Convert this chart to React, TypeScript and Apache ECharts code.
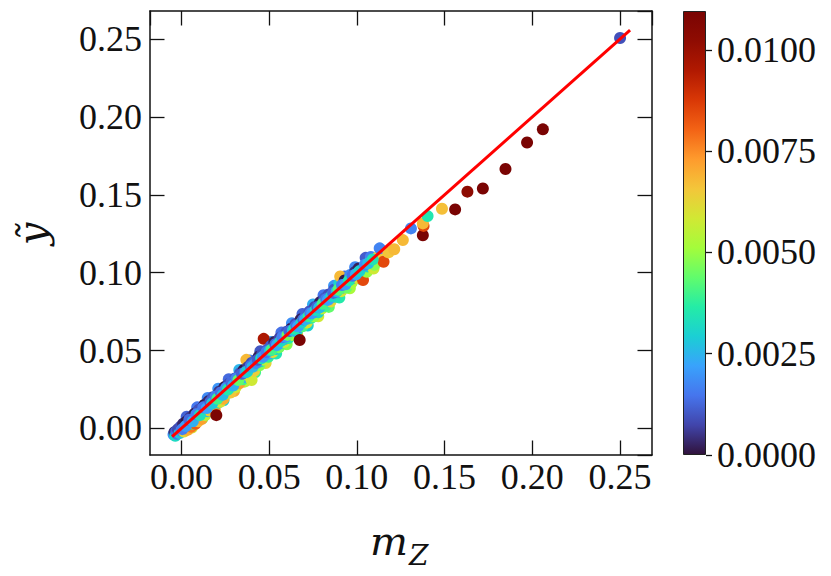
import { useEffect, useRef } from 'react';
import * as echarts from 'echarts';

// scatter data: m_Z (x), y-tilde (y), colour value (c)
const X_VALUES = [
  -0.0045, -0.004, -0.0035, -0.003, -0.0025, -0.002, -0.001, -0.0005, 0.0, 0.001,
  0.0015, 0.002, 0.003, 0.0035, 0.004, 0.005, 0.0055, 0.006, 0.007, 0.0075,
  0.008, 0.009, 0.0095, 0.01, 0.011, 0.0115, 0.012, 0.013, 0.0135, 0.014,
  0.015, 0.0155, 0.016, 0.017, 0.018, 0.0185, 0.019, 0.0199, 0.02, 0.021,
  0.0215, 0.022, 0.023, 0.024, 0.0245, 0.025, 0.026, 0.027, 0.0275, 0.028,
  0.029, 0.03, 0.0305, 0.031, 0.032, 0.033, 0.0335, 0.034, 0.035, 0.0355,
  0.036, 0.037, 0.037, 0.038, 0.0385, 0.039, 0.04, 0.04, 0.041, 0.0415,
  0.042, 0.043, 0.044, 0.0445, 0.045, 0.046, 0.0469, 0.047, 0.048, 0.049,
  0.0495, 0.05, 0.051, 0.052, 0.0525, 0.053, 0.054, 0.055, 0.0555, 0.056,
  0.057, 0.058, 0.0585, 0.059, 0.06, 0.061, 0.062, 0.0625, 0.063, 0.064,
  0.065, 0.066, 0.067, 0.0674, 0.068, 0.069, 0.07, 0.071, 0.0715, 0.072,
  0.073, 0.074, 0.075, 0.0755, 0.076, 0.077, 0.078, 0.079, 0.08, 0.081,
  0.0815, 0.082, 0.083, 0.084, 0.085, 0.086, 0.087, 0.088, 0.089, 0.09,
  0.0905, 0.091, 0.092, 0.093, 0.094, 0.095, 0.0962, 0.097, 0.098, 0.099,
  0.1, 0.101, 0.102, 0.1035, 0.104, 0.1057, 0.106, 0.1076, 0.108, 0.1095,
  0.11, 0.112, 0.113, 0.1152, 0.118, 0.1213, 0.1262, 0.1308, 0.1376, 0.138,
  0.1376, 0.1403, 0.1485, 0.156, 0.163, 0.1718, 0.1847, 0.197, 0.206, 0.25,
];
const Y_VALUES = [
  -0.004, -0.0025, -0.0048, -0.002, -0.0035, -0.0005, -0.003, 0.001, -0.0015, 0.003,
  -0.002, 0.0005, 0.0045, -0.001, 0.002, 0.007, 0.001, 0.0035, 0.003, 0.0095,
  0.003, 0.007, 0.0045, 0.012, 0.0075, 0.006, 0.011, 0.015, 0.0085, 0.012,
  0.011, 0.0175, 0.0115, 0.015, 0.02, 0.014, 0.012, 0.0085, 0.0185, 0.0165,
  0.0235, 0.017, 0.0215, 0.019, 0.0265, 0.0225, 0.0225, 0.0285, 0.024, 0.023,
  0.03, 0.027, 0.032, 0.0265, 0.0305, 0.029, 0.0355, 0.032, 0.0315, 0.0375,
  0.033, 0.044, 0.0345, 0.0395, 0.035, 0.037, 0.031, 0.042, 0.0385, 0.037,
  0.0435, 0.0405, 0.046, 0.0405, 0.043, 0.0475, 0.0575, 0.044, 0.0465, 0.0505,
  0.046, 0.048, 0.053, 0.049, 0.051, 0.0555, 0.051, 0.053, 0.052, 0.058,
  0.055, 0.06, 0.0555, 0.0575, 0.062, 0.058, 0.0605, 0.064, 0.06, 0.0625,
  0.067, 0.063, 0.065, 0.0567, 0.07, 0.0655, 0.0685, 0.073, 0.068, 0.0705,
  0.075, 0.071, 0.0735, 0.072, 0.078, 0.0755, 0.0745, 0.081, 0.077, 0.0795,
  0.0835, 0.0785, 0.0815, 0.086, 0.0815, 0.0845, 0.089, 0.0845, 0.0875, 0.093,
  0.0975, 0.088, 0.0905, 0.095, 0.0905, 0.0935, 0.0985, 0.0935, 0.0965, 0.1005,
  0.0965, 0.1027, 0.099, 0.0952, 0.102, 0.1005, 0.104, 0.1076, 0.11, 0.1027,
  0.105, 0.11, 0.1156, 0.107, 0.113, 0.115, 0.1209, 0.1284, 0.124, 0.13,
  0.1316, 0.1363, 0.141, 0.1406, 0.152, 0.154, 0.1665, 0.1836, 0.192, 0.2507,
];
const C_VALUES = [
  0.002, 0.0004, 0.0032, 0.0012, 0.0015, 0.0008, 0.0028, 0.0009, 0.0018, 0.0003,
  0.0062, 0.0014, 0.0001, 0.007, 0.0022, 0.0006, 0.0078, 0.0016, 0.004, 0.0002,
  0.0082, 0.0013, 0.0068, 0.0009, 0.003, 0.0072, 0.0019, 0.0001, 0.0055, 0.0011,
  0.0026, 0.0003, 0.0065, 0.0015, 0.0010, 0.0045, 0.0074, 0.0109, 0.001, 0.0035,
  0.0005, 0.006, 0.0017, 0.007, 0.0002, 0.0024, 0.005, 0.0008, 0.0032, 0.0066,
  0.0014, 0.002, 0.0011, 0.0058, 0.0029, 0.0072, 0.001, 0.0016, 0.004, 0.0001,
  0.0023, 0.0068, 0.0062, 0.0006, 0.0035, 0.0015, 0.0058, 0.0009, 0.0027, 0.0064,
  0.0012, 0.0018, 0.0002, 0.0048, 0.0031, 0.0009, 0.0096, 0.0055, 0.0017, 0.0010,
  0.0038, 0.0022, 0.0011, 0.0062, 0.0014, 0.0002, 0.003, 0.0019, 0.0046, 0.0007,
  0.0025, 0.0013, 0.0058, 0.0017, 0.0010, 0.0036, 0.0015, 0.0001, 0.0052, 0.0022,
  0.0009, 0.0033, 0.0016, 0.011, 0.0002, 0.0042, 0.0018, 0.0012, 0.006, 0.0027,
  0.0010, 0.0038, 0.0014, 0.0049, 0.0008, 0.002, 0.0031, 0.0002, 0.0055, 0.0016,
  0.0011, 0.004, 0.0024, 0.0009, 0.0062, 0.0017, 0.001, 0.0034, 0.002, 0.003,
  0.0068, 0.0058, 0.0015, 0.0001, 0.0045, 0.0025, 0.0018, 0.0052, 0.0012, 0.0004,
  0.006, 0.0002, 0.0022, 0.0085, 0.0055, 0.005, 0.003, 0.0002, 0.0016, 0.0058,
  0.0048, 0.0065, 0.0017, 0.0085, 0.0066, 0.0068, 0.0068, 0.0017, 0.011, 0.0085,
  0.0068, 0.0035, 0.0067, 0.011, 0.0103, 0.011, 0.011, 0.011, 0.011, 0.0009,
];

// points on the outer edges of the band (drawn first)
const EDGE_X = [
  0.003, 0.006, 0.009, 0.012, 0.015, 0.018, 0.021, 0.024, 0.027, 0.03,
  0.033, 0.036, 0.039, 0.042, 0.045, 0.048, 0.051, 0.054, 0.057, 0.06,
  0.063, 0.066, 0.069, 0.072, 0.075, 0.078, 0.081, 0.084, 0.087, 0.09,
  0.093, 0.096, 0.099, 0.102, 0.105,
];
const EDGE_Y = [
  0.0075, 0.0005, 0.0135, 0.0065, 0.0195, 0.012, 0.0255, 0.018, 0.0315, 0.024,
  0.0375, 0.03, 0.0435, 0.036, 0.0495, 0.042, 0.0555, 0.048, 0.0615, 0.054,
  0.0675, 0.06, 0.0735, 0.066, 0.0795, 0.072, 0.0855, 0.078, 0.0915, 0.084,
  0.0975, 0.09, 0.1035, 0.096, 0.1095,
];
const EDGE_C = [
  0.0012, 0.006, 0.0015, 0.0045, 0.0018, 0.0068, 0.002, 0.003, 0.0013, 0.007,
  0.0025, 0.0055, 0.0016, 0.004, 0.001, 0.0062, 0.0022, 0.0035, 0.0014, 0.0048,
  0.0019, 0.0066, 0.0012, 0.003, 0.0024, 0.0058, 0.0015, 0.0044, 0.002, 0.0036,
  0.0013, 0.0052, 0.0018, 0.0032, 0.0011,
];

// extra points filling the centre of the band (drawn last)
const EXTRA_X = [
  0.0005, 0.0025, 0.0045, 0.0065, 0.0085, 0.0105, 0.0125, 0.0145, 0.0165, 0.0175,
  0.0195, 0.0205, 0.0225, 0.0235, 0.0255, 0.0265, 0.0285, 0.0295, 0.0315, 0.0325,
  0.0345, 0.0365, 0.0375, 0.0395, 0.0405, 0.0425, 0.0435, 0.0455, 0.0465, 0.0485,
  0.0505, 0.0515, 0.0535, 0.0545, 0.0565, 0.0575, 0.0595, 0.0605, 0.0615, 0.0635,
  0.0645, 0.0655, 0.0665, 0.0685, 0.0695, 0.0705, 0.0725, 0.0735, 0.0745, 0.0765,
  0.0775, 0.0785, 0.0805, 0.0825, 0.0835, 0.0855, 0.0865, 0.0885, 0.0895, 0.0915,
  0.0935, 0.0955, 0.0975, 0.0995, 0.1015, 0.1045, 0.1065, 0.109,
];
const EXTRA_Y = [
  -0.0005, 0.0015, 0.0055, 0.0045, 0.009, 0.0085, 0.0135, 0.013, 0.017, 0.016,
  0.0205, 0.019, 0.023, 0.0215, 0.026, 0.025, 0.0295, 0.0275, 0.032, 0.031,
  0.035, 0.036, 0.0365, 0.04, 0.0395, 0.042, 0.044, 0.045, 0.046, 0.049,
  0.05, 0.0505, 0.054, 0.0535, 0.056, 0.0585, 0.059, 0.06, 0.0625, 0.063,
  0.064, 0.066, 0.0655, 0.068, 0.07, 0.07, 0.072, 0.074, 0.074, 0.076,
  0.078, 0.0775, 0.08, 0.083, 0.0825, 0.085, 0.087, 0.088, 0.089, 0.092,
  0.0925, 0.095, 0.098, 0.099, 0.101, 0.105, 0.106, 0.1085,
];
const EXTRA_C = [
  0.0016, 0.0021, 0.0013, 0.0024, 0.0017, 0.0033, 0.0015, 0.0022, 0.0012, 0.0028,
  0.0016, 0.004, 0.0014, 0.0026, 0.0019, 0.0036, 0.0013, 0.0024, 0.0017, 0.0044,
  0.0012, 0.0021, 0.003, 0.0014, 0.0025, 0.0018, 0.0011, 0.0034, 0.002, 0.0015,
  0.0027, 0.004, 0.0013, 0.0023, 0.0032, 0.0016, 0.0021, 0.0045, 0.0012, 0.0026,
  0.0036, 0.0014, 0.0022, 0.003, 0.0013, 0.0024, 0.0038, 0.0016, 0.0021, 0.0033,
  0.0012, 0.0026, 0.004, 0.0015, 0.0022, 0.0031, 0.0013, 0.0025, 0.0042, 0.0016,
  0.0021, 0.0035, 0.0014, 0.0024, 0.003, 0.0018, 0.0026, 0.0034,
];

// reference line y = x
const LINE_X = [-0.0053, 0.2557];

// axis ranges
const X_RANGE = [-0.0179, 0.2682];
const Y_RANGE = [-0.0171, 0.268];
const C_RANGE = [0, 0.01096];
const C_TICK_STEP = 0.0025;

// turbo colour map
const TURBO = [
  '#30123b', '#4145ab', '#4675ed', '#39a2fc', '#1bcfd4', '#24eca6', '#61fc6c', '#a4fc3b',
  '#d1e834', '#f3c63a', '#fe9b2d', '#f36315', '#d93806', '#b11901', '#8f0c02', '#7a0403',
];

const FONT = '"Liberation Serif", "DejaVu Serif", serif';

export default function App() {
  const ref = useRef<HTMLDivElement>(null);

  useEffect(() => {
    if (!ref.current) return;
    const chart = echarts.init(ref.current, null, { renderer: 'svg' });

    const n = X_VALUES.length;
    const edge = EDGE_X.map((x, i) => [x, EDGE_Y[i], EDGE_C[i]]);
    const band = X_VALUES.slice(0, n - 10).map((x, i) => [x, Y_VALUES[i], C_VALUES[i]]);
    const extra = EXTRA_X.map((x, i) => [x, EXTRA_Y[i], EXTRA_C[i]]);
    const outliers = X_VALUES.slice(n - 10).map((x, i) => [x, Y_VALUES[n - 10 + i], C_VALUES[n - 10 + i]]);
    const points = [...edge, ...band, ...extra, ...outliers];
    const lineData = LINE_X.map((v) => [v, v]);

    const axisLine = { show: true, onZero: false, lineStyle: { color: '#111', width: 1.5 } };
    const tickIn = { show: true, inside: true, length: 14.5, lineStyle: { color: '#111', width: 1.3 } };
    const labelStyle = { fontFamily: FONT, fontSize: 36, color: '#111' };

    const option: any = {
      animation: false,
      backgroundColor: '#fff',
      grid: [
        { left: 150, right: 179, top: 11, bottom: 121 },
        { left: 683, width: 23, top: 11, height: 444 },
      ],
      visualMap: {
        type: 'continuous',
        show: false,
        min: C_RANGE[0],
        max: C_RANGE[1],
        dimension: 2,
        seriesIndex: 0,
        inRange: { color: TURBO },
      },
      xAxis: [
        {
          type: 'value', gridIndex: 0, position: 'bottom',
          min: X_RANGE[0], max: X_RANGE[1],
          axisLine, axisTick: tickIn, splitLine: { show: false },
          axisLabel: {
            ...labelStyle, margin: 4, showMinLabel: false, showMaxLabel: false,
            formatter: (v: number) => v.toFixed(2),
          },
        },
        {
          type: 'value', gridIndex: 0, position: 'top',
          min: X_RANGE[0], max: X_RANGE[1],
          axisLine, axisTick: tickIn, splitLine: { show: false },
          axisLabel: { show: false },
        },
        {
          type: 'category', gridIndex: 1, data: ['c'], show: false, boundaryGap: true,
        },
      ],
      yAxis: [
        {
          type: 'value', gridIndex: 0, position: 'left',
          min: Y_RANGE[0], max: Y_RANGE[1],
          axisLine, axisTick: tickIn, splitLine: { show: false },
          axisLabel: {
            ...labelStyle, margin: 8, showMinLabel: false, showMaxLabel: false,
            formatter: (v: number) => v.toFixed(2),
          },
        },
        {
          type: 'value', gridIndex: 0, position: 'right',
          min: Y_RANGE[0], max: Y_RANGE[1],
          axisLine, axisTick: tickIn, splitLine: { show: false },
          axisLabel: { show: false },
        },
        {
          type: 'value', gridIndex: 1, position: 'right',
          min: C_RANGE[0], max: C_RANGE[1], interval: C_TICK_STEP,
          axisLine: { show: false, onZero: false },
          axisTick: { show: true, inside: false, length: 6, lineStyle: { color: '#111', width: 1.3 } },
          splitLine: { show: false },
          axisLabel: {
            ...labelStyle, margin: 11, showMaxLabel: false,
            formatter: (v: number) => (Math.abs(v / C_TICK_STEP - Math.round(v / C_TICK_STEP)) < 1e-6 ? v.toFixed(4) : ''),
          },
        },
      ],
      series: [
        {
          type: 'scatter',
          xAxisIndex: 0, yAxisIndex: 0,
          data: points,
          symbolSize: 12,
          itemStyle: { opacity: 1 },
          z: 2,
        },
        {
          type: 'line',
          xAxisIndex: 0, yAxisIndex: 0,
          data: lineData,
          showSymbol: false,
          lineStyle: { color: '#ff0000', width: 3 },
          z: 3,
        },
        {
          type: 'bar',
          xAxisIndex: 2, yAxisIndex: 2,
          data: [C_RANGE[1]],
          barWidth: '100%',
          itemStyle: {
            color: new echarts.graphic.LinearGradient(0, 1, 0, 0,
              TURBO.map((c, i) => ({ offset: i / (TURBO.length - 1), color: c }))),
            borderColor: '#222',
            borderWidth: 1,
          },
        },
      ],
      graphic: [
        {
          type: 'text', x: 370, y: 541,
          style: { text: 'm', fontFamily: '"DejaVu Serif", serif', fontStyle: 'italic', fontSize: 40, fill: '#111', textAlign: 'left', textVerticalAlign: 'middle' },
        },
        {
          type: 'text', x: 409, y: 555,
          style: { text: 'Z', fontFamily: '"DejaVu Serif", serif', fontStyle: 'italic', fontSize: 28, fill: '#111', textAlign: 'left', textVerticalAlign: 'middle' },
        },
        {
          type: 'text', x: 32, y: 234, rotation: Math.PI / 2,
          style: { text: 'ỹ', fontFamily: '"DejaVu Serif", serif', fontStyle: 'italic', fontSize: 40, fill: '#111', textAlign: 'center', textVerticalAlign: 'middle' },
        },
      ],
    };

    chart.setOption(option);
    return () => chart.dispose();
  }, []);

  return <div ref={ref} style={{ position: 'absolute', left: 0, top: 0, width: 831, height: 576 }} />;
}
